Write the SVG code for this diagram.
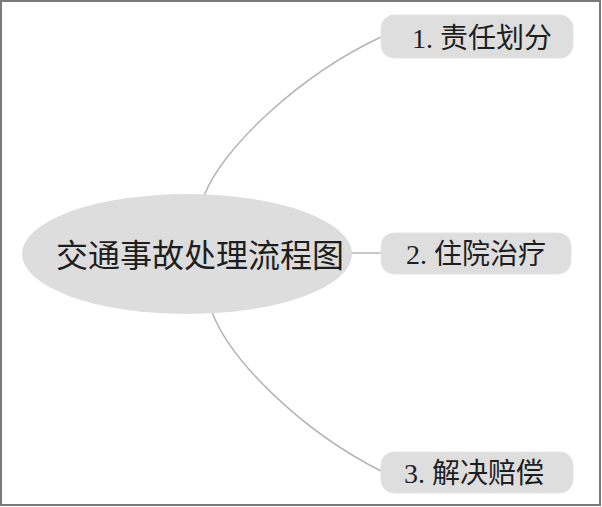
<svg xmlns="http://www.w3.org/2000/svg" width="602" height="507" viewBox="0 0 602 507">
<style>
.box{fill:#dedede;stroke:#e4e4e4;stroke-width:1}
.lbl{font-family:"Liberation Serif","Noto Sans CJK SC",serif;font-size:28px;fill:#1e1e1e}
.conn{fill:none;stroke:#b4b4b4;stroke-width:1.5}
</style>
<rect x="0" y="0" width="602" height="507" fill="#ffffff"/>
<rect x="1" y="1" width="599" height="504" fill="none" stroke="#7a7a7a" stroke-width="2"/>
<g id="connectors">
<path class="conn" d="M204,196 C222,148 300,75 381,37"/>
<path class="conn" d="M350,253 L381,253"/>
<path class="conn" d="M212,312 C230,360 300,430 381,471"/>
</g>
<g id="root">
<ellipse cx="187" cy="254" rx="165" ry="60" fill="#dddddd"/>
<text x="200" y="267" text-anchor="middle" class="lbl" style="font-size:32px">交通事故处理流程图</text>
</g>
<g id="n1">
<rect class="box" x="381" y="15" width="192" height="43" rx="13"/>
<text x="482" y="48" text-anchor="middle" class="lbl">1. 责任划分</text>
</g>
<g id="n2">
<rect class="box" x="381" y="233" width="190" height="41" rx="13"/>
<text x="476" y="264" text-anchor="middle" class="lbl">2. 住院治疗</text>
</g>
<g id="n3">
<rect class="box" x="381" y="452" width="192" height="41" rx="13"/>
<text x="474" y="483" text-anchor="middle" class="lbl">3. 解决赔偿</text>
</g>
</svg>
